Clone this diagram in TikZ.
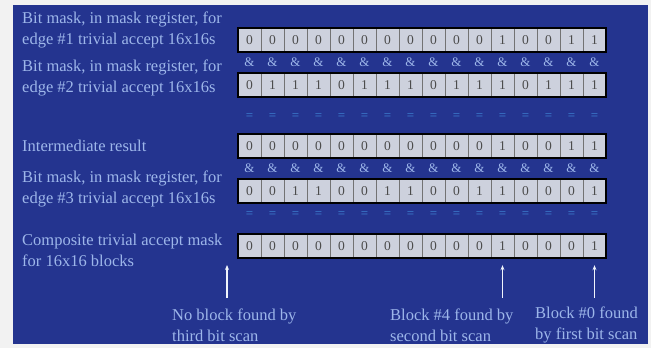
\documentclass[tikz,border=0pt]{standalone}
\usepackage{fontspec}
\setmainfont{Liberation Serif}
\usetikzlibrary{arrows.meta}
\definecolor{panelblue}{HTML}{24348F}
\definecolor{textblue}{HTML}{9DB6EA}
\definecolor{eqblue}{HTML}{3F86D6}
\definecolor{cellgray}{HTML}{CDD1DD}
\tikzset{
  bitcell/.style={draw=black!55, fill=cellgray, minimum width=23pt, minimum height=24pt,
    inner sep=0pt, text=black!70, font=\fontsize{13.5}{14}\selectfont},
  lbl/.style={text=textblue, font=\fontsize{16.5}{21}\selectfont, align=left, anchor=west, inner sep=0pt},
  andsym/.style={text=textblue, inner sep=0pt, font=\fontsize{13}{13}\selectfont},
  eqsym/.style={text=eqblue, inner sep=0pt, font=\fontsize{13}{13}\selectfont},
  scanarrow/.style={draw=white!85!textblue, line width=1.3pt, -{Stealth[length=5pt,width=4pt]}}
}
\begin{document}
\begin{tikzpicture}[x=1pt,y=-1pt]
\useasboundingbox (0,0) rectangle (651,348);
\fill[gray!10] (0,0) rectangle (651,348);
\fill[panelblue] (13,5) rectangle (648,344);

% the five bit rows
\foreach \r/\y/\bits in {1/40/{0,0,0,0,0,0,0,0,0,0,0,1,0,0,1,1},
                         2/85/{0,1,1,1,0,1,1,1,0,1,1,1,0,1,1,1},
                         3/146/{0,0,0,0,0,0,0,0,0,0,0,1,0,0,1,1},
                         4/191/{0,0,1,1,0,0,1,1,0,0,1,1,0,0,0,1},
                         5/246/{0,0,0,0,0,0,0,0,0,0,0,1,0,0,0,1}}{
  \foreach \b [count=\c] in \bits
    \node[bitcell] (r\r-\c) at (226.5+23*\c,\y) {\b};
  \draw[line width=1.6pt] (r\r-1.north west) rectangle (r\r-16.south east);
}

% & and = between the rows
\foreach \c in {1,...,16}{
  \node[andsym] (and1-\c) at (226.5+23*\c,62) {\&};
  \node[andsym] (and2-\c) at (226.5+23*\c,168) {\&};
  \node[eqsym] (eq1-\c) at (226.5+23*\c,117) {=};
  \node[eqsym] (eq2-\c) at (226.5+23*\c,215) {=};
}

% row labels
\node[lbl] (lab1) at (22,30) {Bit mask, in mask register, for\\edge \#1 trivial accept 16x16s};
\node[lbl] (lab2) at (22,78) {Bit mask, in mask register, for\\edge \#2 trivial accept 16x16s};
\node[lbl] (lab3) at (22,146) {Intermediate result};
\node[lbl] (lab4) at (22,189) {Bit mask, in mask register, for\\edge \#3 trivial accept 16x16s};
\node[lbl] (lab5) at (22,250) {Composite trivial accept mask\\for 16x16 blocks};

% bit scan results
\node[lbl] (scan3) at (172,325) {No block found by\\third bit scan};
\node[lbl] (scan2) at (390,325) {Block \#4 found by\\second bit scan};
\node[lbl] (scan1) at (535,325) {Block \#0 found\\by first bit scan};
\coordinate (from3) at (227,298);
\coordinate (to3) at (227,265);
\coordinate (from2) at (r5-12.center |- from3);
\coordinate (from1) at (r5-16.center |- from3);
\draw[scanarrow] (from3) -- (to3);
\draw[scanarrow] (from2) -- ([yshift=-7pt]r5-12.south);
\draw[scanarrow] (from1) -- ([yshift=-7pt]r5-16.south);
\end{tikzpicture}
\end{document}
